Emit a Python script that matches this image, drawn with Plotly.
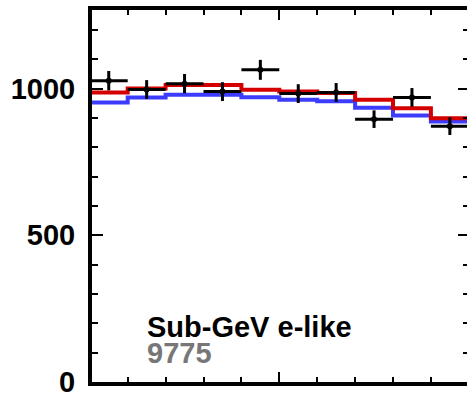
import plotly.graph_objects as go

# bin edges in cos(zenith)
bin_edges = [-1.0, -0.8, -0.6, -0.4, -0.2, 0.0, 0.2, 0.4, 0.6, 0.8, 1.0]
bin_centers = [-0.9, -0.7, -0.5, -0.3, -0.1, 0.1, 0.3, 0.5, 0.7, 0.9]
bin_half = [0.1] * 10

data_counts = [1027, 997, 1017, 990, 1064, 983, 987, 896, 970, 872]
data_err = [33, 32, 33, 32, 34, 32, 32, 30, 32, 30]

mc_red = [987, 1000, 1012, 1012, 996, 990, 985, 962, 933, 899]
mc_blue = [953, 970, 979, 979, 971, 962, 957, 935, 908, 888]

label_title = "Sub-GeV e-like"
label_count = "9775"

FONT = "Liberation Sans, Arial, sans-serif"
Y_RANGE = [0, 1268]

fig = go.Figure()

fig.add_trace(go.Scatter(
    x=bin_edges, y=mc_blue + [mc_blue[-1]], mode="lines", line_shape="hv",
    line=dict(color="#3c3cff", width=4), showlegend=False, hoverinfo="skip"))
fig.add_trace(go.Scatter(
    x=bin_edges, y=mc_red + [mc_red[-1]], mode="lines", line_shape="hv",
    line=dict(color="#d40000", width=4), showlegend=False, hoverinfo="skip"))
fig.add_trace(go.Scatter(
    x=bin_centers, y=data_counts, mode="markers",
    marker=dict(color="black", size=6),
    error_x=dict(type="data", array=bin_half, color="black", thickness=3, width=0),
    error_y=dict(type="data", array=data_err, color="black", thickness=3, width=0),
    showlegend=False, hoverinfo="skip"))
# invisible trace to activate the right-hand tick axis
fig.add_trace(go.Scatter(x=[0], y=[0], yaxis="y2", mode="markers",
                         marker=dict(opacity=0), showlegend=False, hoverinfo="skip"))

label_text = ("<b><span style='font-size:29px'>%s</span></b><br>"
              "<b><span style='font-size:29px;color:#777777'>%s</span></b>"
              % (label_title, label_count))
fig.add_annotation(x=-0.71, y=144, xref="x", yref="y", text=label_text,
                   showarrow=False, xanchor="left", yanchor="middle", align="left",
                   font=dict(family=FONT, size=20, color="black"))

fig.update_layout(
    width=467, height=398,
    margin=dict(l=92, r=0, t=10, b=10),
    paper_bgcolor="white", plot_bgcolor="white",
    xaxis=dict(range=[-0.9884, 0.9905], showgrid=False, zeroline=False,
               showline=True, linewidth=4, linecolor="black", mirror="ticks",
               ticks="inside", ticklen=10, tickwidth=2, tickcolor="black",
               tick0=0, dtick=1, showticklabels=False,
               minor=dict(dtick=0.2, tick0=0, ticks="inside", ticklen=5,
                          tickwidth=2, tickcolor="black", showgrid=False)),
    yaxis=dict(range=Y_RANGE, showgrid=False, zeroline=False,
               showline=True, linewidth=4, linecolor="black", mirror=False,
               ticks="inside", ticklen=11, tickwidth=2, tickcolor="black",
               tick0=0, dtick=500, ticklabelstandoff=7, ticklabeloverflow="allow",
               tickfont=dict(family=FONT, size=29, color="black", weight="bold"),
               minor=dict(dtick=100, tick0=0, ticks="inside", ticklen=6,
                          tickwidth=2, tickcolor="black", showgrid=False)),
    yaxis2=dict(range=Y_RANGE, overlaying="y", side="right", showgrid=False,
                zeroline=False, showline=False, showticklabels=False,
                ticks="inside", ticklen=9, tickwidth=2, tickcolor="black",
                tick0=0, dtick=500,
                minor=dict(dtick=100, tick0=0, ticks="inside", ticklen=4,
                           tickwidth=2, tickcolor="black", showgrid=False)),
)

fig.write_html("out.html")
